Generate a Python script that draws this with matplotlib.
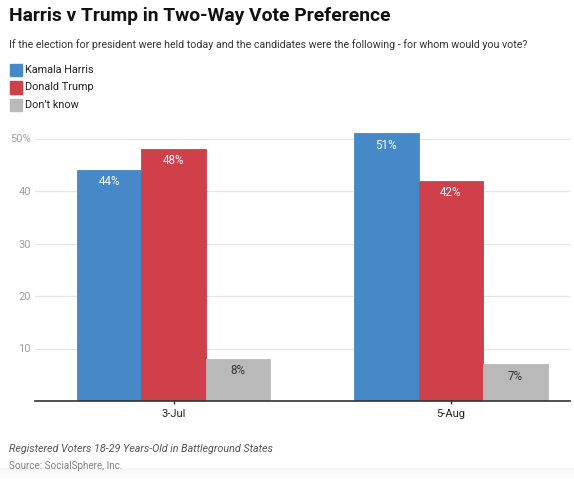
import numpy as np
import matplotlib.pyplot as plt

plt.rcParams['font.family'] = ['Roboto', 'DejaVu Sans']

dates = ['3-Jul', '5-Aug']
harris = [44, 51]
trump = [48, 42]
dont_know = [8, 7]
series = [('Kamala Harris', harris, '#4689c8'),
          ('Donald Trump', trump, '#d0404a'),
          ("Don\u2019t know", dont_know, '#b9b9b9')]
yticks = [10, 20, 30, 40, 50]
ytick_labels = ['10', '20', '30', '40', '50%']

W, H = 574, 480
fig = plt.figure(figsize=(W / 100, H / 100), dpi=100)

# faint grey shade at the very bottom
bg = fig.add_axes([0, 0, 1, 12 / H], zorder=-5)
bg.imshow(np.linspace(1, 0, 20).reshape(-1, 1), cmap='Greys', vmin=0, vmax=14,
          aspect='auto', extent=[0, 1, 0, 1])
bg.axis('off')

ax = fig.add_axes([35 / W, (H - 401) / H, 535 / W, 273 / H])

x = np.arange(len(dates))
width = 0.233
for i, (name, vals, col) in enumerate(series):
    pos = x + (i - 1) * width
    bars = ax.bar(pos, vals, width, color=col, edgecolor=col, linewidth=0.6, zorder=2)
    for b, v in zip(bars, vals):
        ax.annotate('%d%%' % v, (b.get_x() + b.get_width() / 2, v),
                    xytext=(0, -8.5), textcoords='offset points',
                    ha='center', va='center', fontsize=8.4,
                    color='white' if i < 2 else '#333333', zorder=3)

ax.set_xlim(-0.5, 1.43)
ax.set_ylim(0, 52)
ax.set_yticks(yticks)
ax.set_yticklabels(ytick_labels)
ax.set_xticks(x)
ax.set_xticklabels(dates)
ax.grid(axis='y', color='#e6e6e6', linewidth=0.9, zorder=0)
for s in ['top', 'right', 'left']:
    ax.spines[s].set_visible(False)
ax.spines['bottom'].set_color('#333333')
ax.spines['bottom'].set_linewidth(1.2)
ax.spines['bottom'].set_zorder(4)
ax.tick_params(axis='y', length=0, labelsize=8, labelcolor='#a0a0a0', pad=3)
ax.tick_params(axis='x', length=4, width=1, color='#333333', labelsize=8,
               labelcolor='#222222', pad=4, direction='inout')

fig.text(9 / W, 1 - 16 / H, 'Harris v Trump in Two-Way Vote Preference',
         fontsize=13.9, fontweight='bold', va='center', ha='left', color='#111111')
fig.text(9 / W, 1 - 45 / H,
         'If the election for president were held today and the candidates were the following - for whom would you vote?',
         fontsize=7.65, va='center', ha='left', color='#333333')

leg_y = [70, 87.5, 105]
for (name, vals, col), yy in zip(series, leg_y):
    fig.patches.append(plt.Rectangle((10 / W, (H - yy - 6) / H), 12 / W, 12 / H,
                                     transform=fig.transFigure, color=col))
    fig.text(25 / W, 1 - yy / H, name, fontsize=7.8, va='center', ha='left', color='#222222')

fig.text(9 / W, 1 - 449 / H, 'Registered Voters 18-29 Years-Old in Battleground States',
         fontsize=7.75, style='italic', va='center', ha='left', color='#555555')
fig.text(9 / W, 1 - 466 / H, 'Source: SocialSphere, Inc.',
         fontsize=7.1, va='center', ha='left', color='#808080')

fig.savefig('out.png', dpi=100)
